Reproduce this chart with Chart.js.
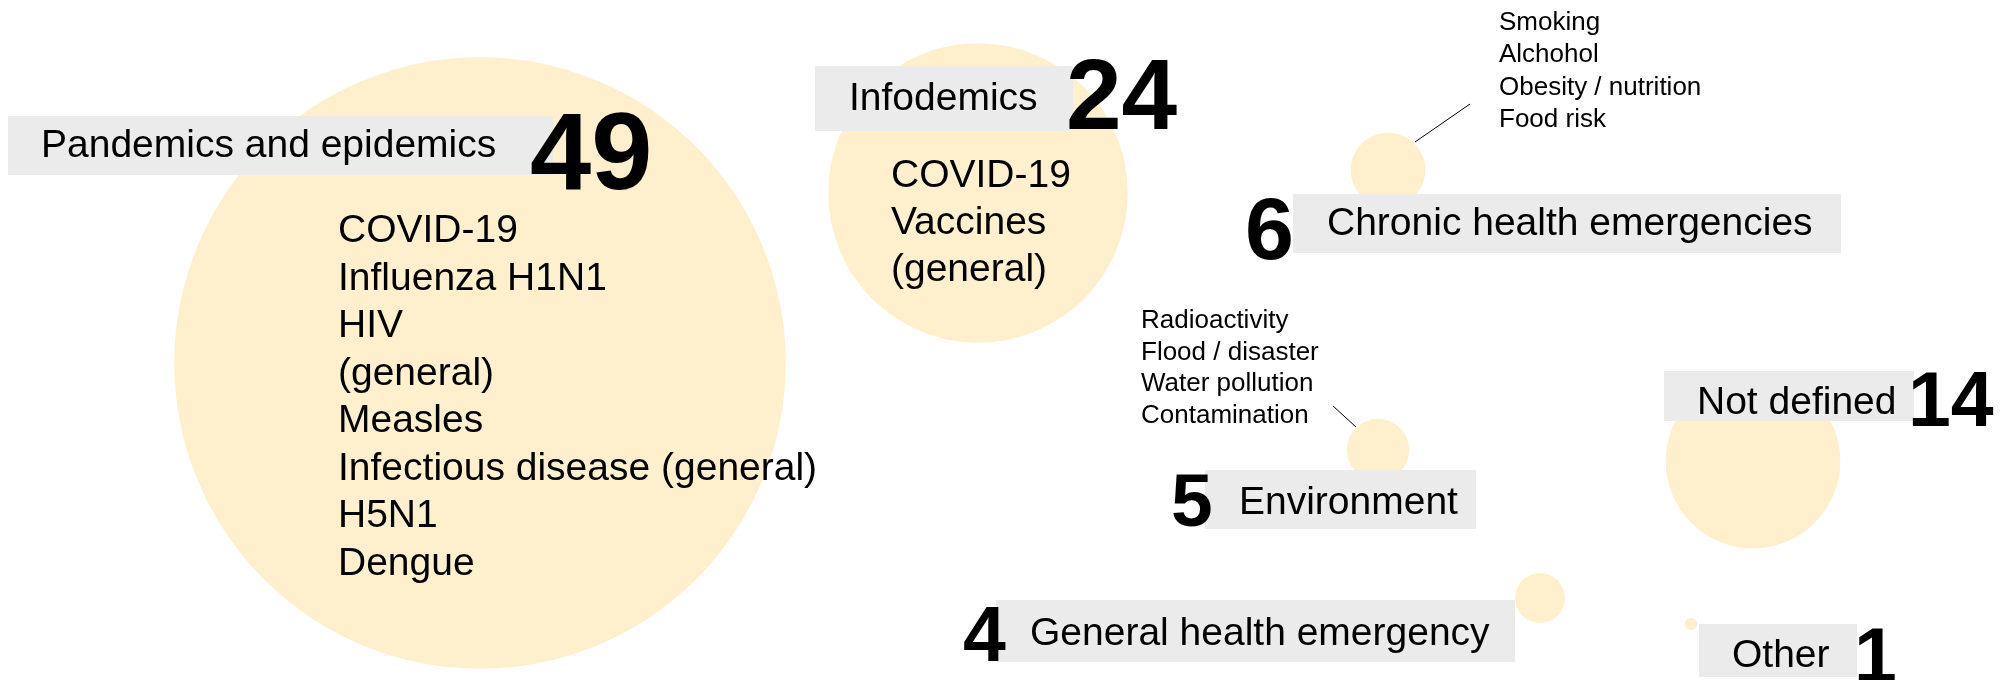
<!DOCTYPE html>
<html>
<head>
<meta charset="utf-8">
<script src="https://cdn.jsdelivr.net/npm/chart.js@4/dist/chart.umd.min.js"></script>
<style>
    body { margin: 0; background: #fff; }
    #wrap { width: 2002px; height: 680px; }
</style>
</head>
<body>
<div id="wrap"><canvas id="topicsChart" width="2002" height="680"></canvas></div>
<script>
// health emergency categories and how many items mention each
const categories = ['Pandemics and epidemics', 'Infodemics', 'Chronic health emergencies', 'Environment', 'General health emergency', 'Not defined', 'Other'];
const mentions = [49, 24, 6, 5, 4, 14, 1];

// bubble centres on the layout grid (same units as the canvas)
const xPos = [480, 978, 1388, 1378, 1540, 1753, 1691];
const yPos = [363, 193, 170, 450, 598, 461, 624];

// sub topics listed next to some categories
const pandemicTopics = ['COVID-19', 'Influenza H1N1', 'HIV', '(general)', 'Measles', 'Infectious disease (general)', 'H5N1', 'Dengue'];
const infodemicTopics = ['COVID-19', 'Vaccines', '(general)'];
const chronicTopics = ['Smoking', 'Alchohol', 'Obesity / nutrition', 'Food risk'];
const environmentTopics = ['Radioactivity', 'Flood / disaster', 'Water pollution', 'Contamination'];

const PX_PER_MENTION = 6.24;
const FONT = '"Liberation Sans", Arial, sans-serif';

// where each category's grey tag and big number sit
const tags = [
    { box: [8, 116, 553, 175], text: [41, 157], num: [530, 189, 110] },
    { box: [815, 66, 1073, 131], text: [849, 110], num: [1066, 129, 100] },
    { box: [1293, 194, 1841, 253], text: [1327, 235], num: [1245, 259, 88] },
    { box: [1205, 470, 1476, 529], text: [1239, 514], num: [1171, 526, 75] },
    { box: [996, 600, 1515, 662], text: [1030, 645], num: [963, 661, 77] },
    { box: [1664, 371, 1914, 421], text: [1697, 414], num: [1908, 426, 77] },
    { box: [1699, 624, 1857, 677], text: [1732, 667], num: [1854, 682, 77] }
];

const topicLists = [
    { items: pandemicTopics, x: 338, y: 242, step: 47.5, size: 39 },
    { items: infodemicTopics, x: 891, y: 187, step: 47, size: 39 },
    { items: chronicTopics, x: 1499, y: 30, step: 32.3, size: 26 },
    { items: environmentTopics, x: 1141, y: 328, step: 31.7, size: 26 }
];

const leaders = [
    [1415, 142, 1470, 104],
    [1333, 406, 1356, 427]
];

const labelPlugin = {
    id: 'categoryLabels',
    afterDatasetsDraw(chart) {
        const ctx = chart.ctx;
        ctx.save();
        ctx.textBaseline = 'alphabetic';
        ctx.textAlign = 'left';

        ctx.strokeStyle = '#000';
        ctx.lineWidth = 1;
        leaders.forEach(l => {
            ctx.beginPath();
            ctx.moveTo(l[0], l[1]);
            ctx.lineTo(l[2], l[3]);
            ctx.stroke();
        });

        topicLists.forEach(list => {
            ctx.font = `${list.size}px ${FONT}`;
            ctx.fillStyle = '#000';
            list.items.forEach((t, i) => ctx.fillText(t, list.x, list.y + i * list.step));
        });

        tags.forEach((tag, i) => {
            const b = tag.box;
            ctx.fillStyle = '#ebebeb';
            ctx.fillRect(b[0], b[1], b[2] - b[0], b[3] - b[1]);
            ctx.fillStyle = '#000';
            ctx.font = `39px ${FONT}`;
            ctx.fillText(categories[i], tag.text[0], tag.text[1]);
        });

        tags.forEach((tag, i) => {
            ctx.font = `bold ${tag.num[2]}px ${FONT}`;
            ctx.fillStyle = '#000';
            ctx.fillText(String(mentions[i]), tag.num[0], tag.num[1]);
        });
        ctx.restore();
    }
};

const ctx = document.getElementById('topicsChart').getContext('2d');
new Chart(ctx, {
    type: 'bubble',
    data: {
        datasets: [{
            label: 'Mentions',
            data: mentions.map((m, i) => ({ x: xPos[i], y: yPos[i], r: m * PX_PER_MENTION })),
            backgroundColor: '#fff0cd',
            borderWidth: 0,
            hoverBorderWidth: 0,
            clip: false
        }]
    },
    options: {
        responsive: false,
        animation: false,
        layout: { padding: 0, autoPadding: false },
        scales: {
            x: { type: 'linear', min: 0, max: 2002, display: false },
            y: { type: 'linear', min: 0, max: 680, reverse: true, display: false }
        },
        plugins: {
            legend: { display: false },
            tooltip: { enabled: false }
        }
    },
    plugins: [labelPlugin]
});
</script>
</body>
</html>
